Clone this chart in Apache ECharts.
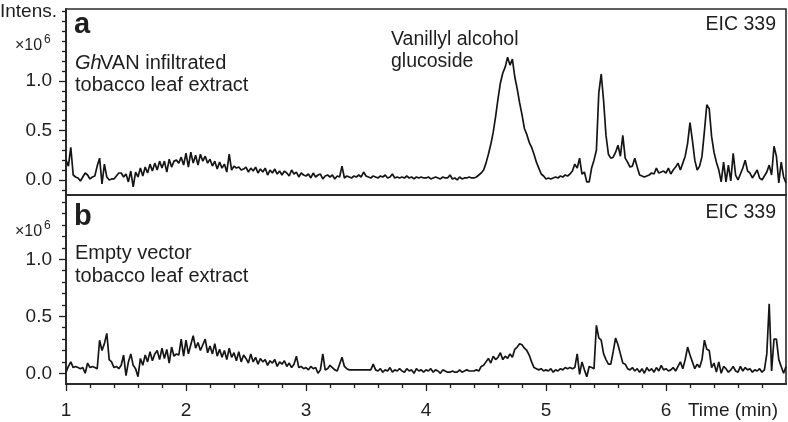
<!DOCTYPE html>
<html>
<head>
<meta charset="utf-8">
<script src="https://cdn.jsdelivr.net/npm/echarts@6/dist/echarts.min.js"></script>
<style>
    html, body { margin: 0; padding: 0; background: #fff; }
    #chart { width: 788px; height: 422px; }
</style>
</head>
<body>
<div id="chart"></div>
<script>
    // time axis: first sample and spacing (min)
    var timeStart = 1.0;
    var timeStep = 0.02;

    // panel a: GhVAN infiltrated, EIC 339 (x10^6)
    var intensA = [
        0.20, 0.14, 0.33, 0.05, 0.03, 0.02, -0.01, 0.03, 0.07, 0.05,
        0.01, 0.03, 0.04, 0.14, 0.22, -0.04, 0.16, 0.03, 0.00, 0.01,
        0.01, 0.04, 0.07, 0.07, 0.03, 0.06, -0.02, 0.09, -0.07, 0.08,
        0.03, 0.12, 0.04, 0.13, 0.07, 0.16, 0.09, 0.17, 0.10, 0.19,
        0.12, 0.19, 0.08, 0.21, 0.13, 0.19, 0.20, 0.17, 0.23, 0.15,
        0.27, 0.13, 0.28, 0.17, 0.25, 0.15, 0.26, 0.19, 0.24, 0.17,
        0.21, 0.14, 0.19, 0.11, 0.18, 0.12, 0.16, 0.08, 0.26, 0.10,
        0.14, 0.12, 0.13, 0.10, 0.11, 0.13, 0.08, 0.12, 0.09, 0.13,
        0.07, 0.11, 0.08, 0.12, 0.05, 0.10, 0.07, 0.11, 0.06, 0.09,
        0.05, 0.09, 0.07, 0.04, 0.10, 0.06, 0.08, 0.03, 0.07, 0.05,
        0.04, 0.06, 0.02, 0.07, 0.03, 0.05, 0.06, 0.01, 0.04, 0.05,
        0.03, 0.05, 0.01, 0.04, 0.03, 0.14, 0.02, 0.04, 0.03, 0.02,
        0.04, 0.03, 0.05, 0.03, 0.08, 0.04, 0.03, 0.02, 0.04, 0.03,
        0.02, 0.04, 0.03, 0.05, 0.02, 0.03, 0.06, 0.02, 0.03, 0.02,
        0.03, 0.02, 0.04, 0.02, 0.03, 0.01, 0.03, 0.02, 0.03, 0.02,
        0.02, 0.03, 0.01, 0.02, 0.03, 0.02, 0.01, 0.03, 0.02, 0.02,
        0.05, 0.01, 0.02, 0.00, 0.03, 0.01, 0.02, 0.02, 0.03, 0.02,
        0.02, 0.03, 0.05, 0.07, 0.10, 0.17, 0.26, 0.36, 0.48, 0.64,
        0.82, 0.98, 1.08, 1.14, 1.24, 1.16, 1.22, 1.04, 0.92, 0.78,
        0.66, 0.52, 0.46, 0.38, 0.33, 0.26, 0.18, 0.12, 0.06, 0.04,
        0.01, 0.02, 0.01, 0.02, 0.03, 0.02, 0.04, 0.03, 0.05, 0.04,
        0.06, 0.09, 0.16, 0.12, 0.22, 0.06, 0.08, -0.02, -0.02, 0.12,
        0.20, 0.30, 0.88, 1.07, 0.80, 0.45, 0.26, 0.22, 0.23, 0.28,
        0.35, 0.24, 0.45, 0.22, 0.18, 0.13, 0.14, 0.22, 0.13, 0.05,
        0.04, 0.03, 0.04, 0.05, 0.07, 0.06, 0.12, 0.07, 0.08, 0.09,
        0.07, 0.12, 0.06, 0.10, 0.13, 0.17, 0.10, 0.17, 0.24, 0.37,
        0.58, 0.40, 0.20, 0.10, 0.14, 0.24, 0.49, 0.76, 0.72, 0.44,
        0.28, 0.18, 0.10, -0.02, 0.18, -0.02, 0.15, -0.01, 0.27, 0.05,
        0.00, 0.06, 0.12, 0.20, 0.09, 0.07, 0.02, 0.06, 0.10, 0.02,
        0.00, 0.04, 0.08, 0.15, 0.05, 0.34, 0.24, -0.03, 0.18, 0.03,
        -0.03
    ];

    // panel b: empty vector, EIC 339 (x10^6)
    var intensB = [
        0.01, 0.06, 0.10, 0.05, 0.06, 0.05, 0.04, 0.05, 0.00, 0.09,
        0.05, 0.06, 0.05, 0.04, 0.29, 0.20, 0.26, 0.35, 0.12, 0.10,
        0.05, 0.06, 0.04, 0.07, 0.16, -0.02, 0.10, 0.17, 0.07, 0.04,
        -0.03, 0.13, 0.07, 0.16, 0.10, 0.19, 0.11, 0.17, 0.20, 0.12,
        0.22, 0.13, 0.21, 0.09, 0.23, 0.15, 0.17, 0.16, 0.30, 0.15,
        0.29, 0.17, 0.25, 0.33, 0.22, 0.27, 0.20, 0.25, 0.30, 0.18,
        0.24, 0.17, 0.26, 0.15, 0.21, 0.14, 0.20, 0.12, 0.22, 0.14,
        0.18, 0.11, 0.19, 0.10, 0.16, 0.13, 0.09, 0.17, 0.10, 0.14,
        0.08, 0.13, 0.10, 0.12, 0.07, 0.11, 0.09, 0.12, 0.06, 0.10,
        0.08, 0.11, 0.06, 0.09, 0.05, 0.08, 0.15, 0.05, 0.06, 0.04,
        0.05, 0.03, 0.06, 0.04, 0.05, 0.00, 0.03, 0.17, 0.03, 0.04,
        0.07, 0.05, 0.03, 0.02, 0.08, 0.14, 0.06, 0.04, 0.03, 0.03,
        0.03, 0.03, 0.03, 0.03, 0.03, 0.03, 0.03, 0.03, 0.08, 0.03,
        0.02, 0.04, 0.01, 0.03, 0.02, 0.05, 0.01, 0.03, 0.02, 0.04,
        0.02, 0.01, 0.04, 0.02, 0.03, 0.00, 0.04, 0.02, 0.03, 0.01,
        0.03, 0.02, 0.04, 0.01, 0.03, 0.02, 0.00, 0.03, 0.02, 0.01,
        0.01, 0.02, 0.01, 0.01, 0.03, 0.01, 0.02, 0.03, 0.02, 0.02,
        0.02, 0.03, 0.02, 0.06, 0.07, 0.10, 0.13, 0.09, 0.15, 0.12,
        0.14, 0.18, 0.12, 0.15, 0.13, 0.17, 0.14, 0.21, 0.23, 0.26,
        0.25, 0.22, 0.20, 0.16, 0.10, 0.05, 0.04, 0.03, 0.04, 0.02,
        0.03, 0.02, 0.04, 0.01, 0.03, 0.02, 0.04, 0.03, 0.05, 0.04,
        0.05, 0.04, 0.05, 0.17, -0.01, 0.10, 0.03, -0.03, 0.06, 0.05,
        0.04, 0.42, 0.31, 0.29, 0.17, 0.12, 0.08, 0.08, 0.19, 0.31,
        0.25, 0.17, 0.09, 0.08, 0.04, 0.03, 0.05, 0.02, 0.04, 0.01,
        0.04, 0.00, 0.05, 0.02, 0.04, 0.01, 0.05, 0.02, 0.07, 0.03,
        0.04, 0.02, 0.03, 0.05, 0.02, 0.06, 0.10, 0.04, 0.12, 0.23,
        0.16, 0.10, 0.04, 0.08, 0.05, 0.12, 0.29, 0.21, 0.20, 0.05,
        0.09, 0.01, 0.10, 0.00, 0.06, 0.04, 0.01, 0.03, 0.06, 0.02,
        0.01, 0.06, 0.02, 0.05, 0.03, 0.04, 0.01, 0.03, 0.02, 0.04,
        0.01, 0.03, 0.17, 0.61, 0.02, 0.30, 0.30, 0.12, 0.06, 0.00,
        0.06
    ];

    // tick marks
    var xMajorTicks = [1, 2, 3, 4, 5, 6];
    var xMinorTicks = [1.2, 1.4, 1.6, 1.8, 2.2, 2.4, 2.6, 2.8, 3.2, 3.4, 3.6, 3.8,
        4.2, 4.4, 4.6, 4.8, 5.2, 5.4, 5.6, 5.8, 6.2, 6.4, 6.6, 6.8];
    var yMajorTicks = [0, 0.5, 1.0];
    var yMinorTicksA = [-0.1, 0.1, 0.2, 0.3, 0.4, 0.6, 0.7, 0.8, 0.9, 1.1, 1.2, 1.3, 1.4, 1.5, 1.6, 1.7];
    var yMinorTicksB = [0.1, 0.2, 0.3, 0.4, 0.6, 0.7, 0.8, 0.9, 1.1, 1.2, 1.3, 1.4, 1.5];

    var FONT = '"Liberation Sans", Arial, Helvetica, sans-serif';
    var INK = '#1e1e1e';

    var toPairs = function (vals) {
        return vals.map(function (v, i) {
            return [+(timeStart + i * timeStep).toFixed(2), v];
        });
    };

    var edgeLine = { show: true, onZero: false, lineStyle: { color: '#2a2a2a', width: 1.6 } };

    var yAxisPair = function (grid, min, max, minorTicks) {
        return [
            {
                type: 'value', gridIndex: grid, min: min, max: max, position: 'left',
                splitLine: { show: false },
                axisLine: edgeLine,
                axisTick: { show: true, inside: false, length: 7, customValues: yMajorTicks,
                    lineStyle: { color: INK, width: 1.3 } },
                axisLabel: { show: true, customValues: yMajorTicks, margin: 14,
                    color: INK, fontSize: 19, fontFamily: FONT,
                    formatter: function (v) { return v.toFixed(1); } }
            },
            {
                type: 'value', gridIndex: grid, min: min, max: max, position: 'left',
                splitLine: { show: false },
                axisLine: edgeLine,
                axisTick: { show: true, inside: false, length: 4, customValues: minorTicks,
                    lineStyle: { color: INK, width: 1.3 } },
                axisLabel: { show: false }
            }
        ];
    };

    var text = function (str, x, y, size, opts) {
        opts = opts || {};
        return {
            type: 'text',
            style: {
                text: str, x: x, y: y,
                fill: INK,
                font: (opts.style || 'normal') + ' ' + (opts.weight || 'normal') + ' ' + size + 'px ' + FONT,
                textAlign: opts.align || 'left', align: opts.align || 'left',
                textVerticalAlign: 'middle', verticalAlign: 'middle'
            }
        };
    };

    var chart = echarts.init(document.getElementById('chart'));

    var option = {
        animation: false,
        backgroundColor: '#fff',
        grid: [
            { left: 66, right: 2, top: 9, height: 186, show: true,
                borderColor: '#2a2a2a', borderWidth: 1.6, backgroundColor: 'transparent' },
            { left: 66, right: 2, top: 195, height: 189, show: true,
                borderColor: '#2a2a2a', borderWidth: 1.6, backgroundColor: 'transparent' }
        ],
        xAxis: [
            {
                type: 'value', gridIndex: 0, min: 1, max: 7, position: 'bottom',
                splitLine: { show: false }, axisLine: edgeLine,
                axisTick: { show: false }, axisLabel: { show: false }
            },
            {
                type: 'value', gridIndex: 1, min: 1, max: 7, position: 'bottom',
                splitLine: { show: false }, axisLine: edgeLine,
                axisTick: { show: true, inside: false, length: 7, customValues: xMajorTicks,
                    lineStyle: { color: INK, width: 1.3 } },
                axisLabel: { show: true, customValues: xMajorTicks, margin: 17,
                    color: INK, fontSize: 19, fontFamily: FONT }
            },
            {
                type: 'value', gridIndex: 1, min: 1, max: 7, position: 'bottom',
                splitLine: { show: false }, axisLine: edgeLine,
                axisTick: { show: true, inside: false, length: 4, customValues: xMinorTicks,
                    lineStyle: { color: INK, width: 1.3 } },
                axisLabel: { show: false }
            }
        ],
        yAxis: yAxisPair(0, -0.152, 1.727, yMinorTicksA)
            .concat(yAxisPair(1, -0.094, 1.564, yMinorTicksB)),
        series: [
            {
                name: 'GhVAN', type: 'line', xAxisIndex: 0, yAxisIndex: 0,
                data: toPairs(intensA), showSymbol: false, symbol: 'none',
                lineStyle: { color: '#151515', width: 1.7 }
            },
            {
                name: 'Empty vector', type: 'line', xAxisIndex: 1, yAxisIndex: 2,
                data: toPairs(intensB), showSymbol: false, symbol: 'none',
                lineStyle: { color: '#151515', width: 1.7 }
            }
        ],
        graphic: [
            text('Intens.', 0, 12, 19),
            text('\u00d710', 15, 46, 16),
            text('6', 44, 40, 12),
            text('a', 74, 25, 29, { weight: 'bold' }),
            text('Gh', 75, 63, 20, { style: 'italic' }),
            text('VAN infiltrated', 100, 63, 20),
            text('tobacco leaf extract', 75, 85, 20),
            text('Vanillyl alcohol', 391, 40, 19.5),
            text('glucoside', 391, 62, 19.5),
            text('EIC 339', 776, 25, 19.5, { align: 'right' }),

            text('\u00d710', 15, 232, 16),
            text('6', 44, 226, 12),
            text('b', 74, 217, 29, { weight: 'bold' }),
            text('Empty vector', 75, 253, 20),
            text('tobacco leaf extract', 75, 276, 20),
            text('EIC 339', 776, 213, 19.5, { align: 'right' }),

            text('Time (min)', 778, 411, 19, { align: 'right' })
        ]
    };

    chart.setOption(option);
</script>
</body>
</html>
